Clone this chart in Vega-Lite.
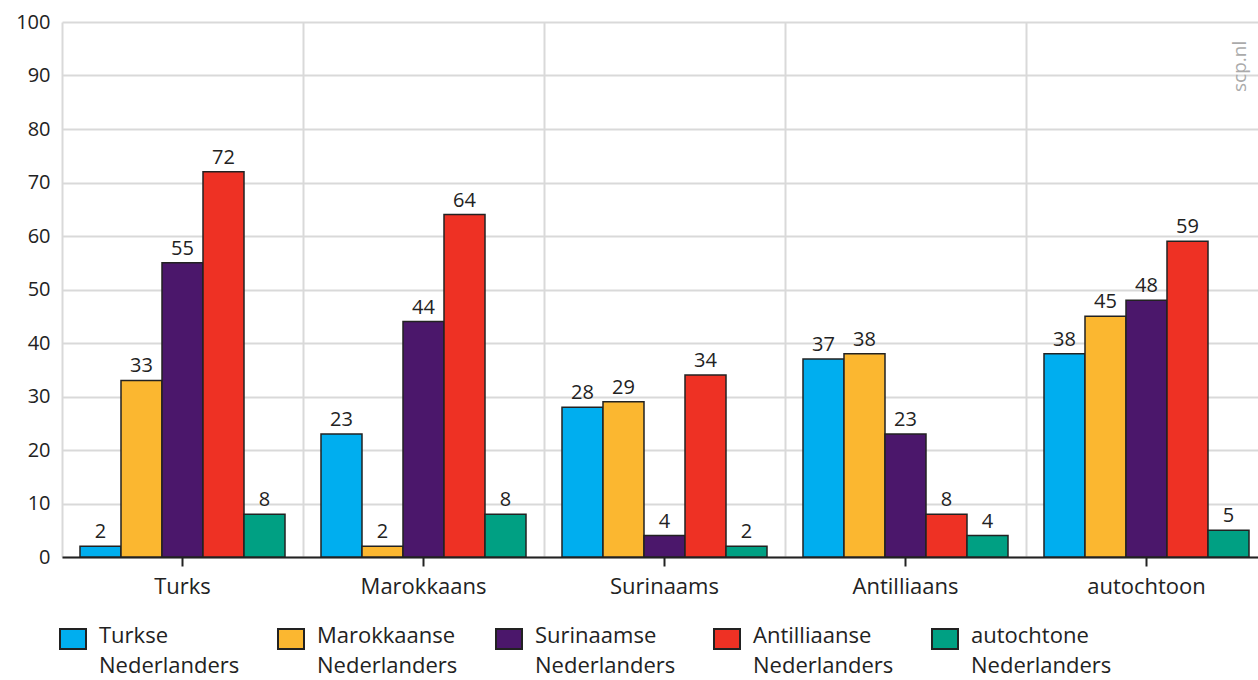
{
  "$schema": "https://vega.github.io/schema/vega-lite/v6.json",
  "autosize": "none",
  "width": 1205,
  "height": 535,
  "padding": {"left": 62, "top": 22, "right": 0, "bottom": 123},
  "background": "white",
  "config": {
    "font": "Open Sans",
    "view": {"stroke": null},
    "axis": {"labelFont": "Open Sans", "labelColor": "#222", "gridColor": "#d9d9d9", "gridWidth": 2}
  },
  "data": {"values": [
    {"group": "Turks", "series": "Turkse Nederlanders", "value": 2},
    {"group": "Turks", "series": "Marokkaanse Nederlanders", "value": 33},
    {"group": "Turks", "series": "Surinaamse Nederlanders", "value": 55},
    {"group": "Turks", "series": "Antilliaanse Nederlanders", "value": 72},
    {"group": "Turks", "series": "autochtone Nederlanders", "value": 8},
    {"group": "Marokkaans", "series": "Turkse Nederlanders", "value": 23},
    {"group": "Marokkaans", "series": "Marokkaanse Nederlanders", "value": 2},
    {"group": "Marokkaans", "series": "Surinaamse Nederlanders", "value": 44},
    {"group": "Marokkaans", "series": "Antilliaanse Nederlanders", "value": 64},
    {"group": "Marokkaans", "series": "autochtone Nederlanders", "value": 8},
    {"group": "Surinaams", "series": "Turkse Nederlanders", "value": 28},
    {"group": "Surinaams", "series": "Marokkaanse Nederlanders", "value": 29},
    {"group": "Surinaams", "series": "Surinaamse Nederlanders", "value": 4},
    {"group": "Surinaams", "series": "Antilliaanse Nederlanders", "value": 34},
    {"group": "Surinaams", "series": "autochtone Nederlanders", "value": 2},
    {"group": "Antilliaans", "series": "Turkse Nederlanders", "value": 37},
    {"group": "Antilliaans", "series": "Marokkaanse Nederlanders", "value": 38},
    {"group": "Antilliaans", "series": "Surinaamse Nederlanders", "value": 23},
    {"group": "Antilliaans", "series": "Antilliaanse Nederlanders", "value": 8},
    {"group": "Antilliaans", "series": "autochtone Nederlanders", "value": 4},
    {"group": "autochtoon", "series": "Turkse Nederlanders", "value": 38},
    {"group": "autochtoon", "series": "Marokkaanse Nederlanders", "value": 45},
    {"group": "autochtoon", "series": "Surinaamse Nederlanders", "value": 48},
    {"group": "autochtoon", "series": "Antilliaanse Nederlanders", "value": 59},
    {"group": "autochtoon", "series": "autochtone Nederlanders", "value": 5}
  ]},
  "layer": [
    {
      "mark": {"type": "bar", "stroke": "#222", "strokeWidth": 1.5},
      "encoding": {
        "x": {"field": "group", "type": "nominal", "sort": ["Turks", "Marokkaans", "Surinaams", "Antilliaans", "autochtoon"],
          "scale": {"domain": ["Turks", "Marokkaans", "Surinaams", "Antilliaans", "autochtoon"], "paddingInner": 0, "paddingOuter": 0},
          "axis": {"title": null, "grid": false, "domainColor": "#222", "domainWidth": 2, "tickColor": "#222", "tickWidth": 2, "tickSize": 9, "labelFontSize": 22, "labelPadding": 10, "labelAngle": 0}},
        "xOffset": {"field": "series", "type": "nominal",
          "sort": ["Turkse Nederlanders", "Marokkaanse Nederlanders", "Surinaamse Nederlanders", "Antilliaanse Nederlanders", "autochtone Nederlanders"],
          "scale": {"paddingInner": 0, "paddingOuter": 0.439}},
        "y": {"field": "value", "type": "quantitative", "scale": {"domain": [0, 100], "nice": false},
          "axis": {"values": [0,10,20,30,40,50,60,70,80,90,100], "title": null, "domain": false, "ticks": false, "labelFontSize": 20, "labelPadding": 12, "grid": true}},
        "color": {"field": "series", "type": "nominal",
          "scale": {"domain": ["Turkse Nederlanders", "Marokkaanse Nederlanders", "Surinaamse Nederlanders", "Antilliaanse Nederlanders", "autochtone Nederlanders"],
            "range": ["#00AEEF", "#FBB730", "#4B176B", "#EE3124", "#00A083"]},
          "legend": {"title": null, "orient": "bottom", "direction": "horizontal", "columns": 5, "offset": 31,
            "symbolType": "M-1.3,-1L1.3,-1L1.3,1L-1.3,1Z", "symbolSize": 400, "symbolStrokeColor": "#222", "symbolStrokeWidth": 2, "symbolOpacity": 1,
            "labelFontSize": 22, "labelColor": "#222", "labelOffset": 15, "columnPadding": 34, "labelLimit": 300,
            "labelExpr": "split(datum.label, ' ')",
            "labelBaseline": "top",
            "encode": {"labels": {"update": {"lineHeight": {"value": 30}, "dy": {"value": -13}}}}}}
      }
    },
    {
      "mark": {"type": "text", "baseline": "bottom", "dy": -4, "fontSize": 20, "color": "#222"},
      "encoding": {
        "x": {"field": "group", "type": "nominal", "sort": ["Turks", "Marokkaans", "Surinaams", "Antilliaans", "autochtoon"], "axis": null},
        "xOffset": {"field": "series", "type": "nominal",
          "sort": ["Turkse Nederlanders", "Marokkaanse Nederlanders", "Surinaamse Nederlanders", "Antilliaanse Nederlanders", "autochtone Nederlanders"]},
        "y": {"field": "value", "type": "quantitative"},
        "text": {"field": "value", "type": "quantitative"}
      }
    },
    {
      "data": {"values": [{"t": "scp.nl", "group": "autochtoon", "pos": 96.5}]},
      "mark": {"type": "text", "angle": 270, "align": "right", "baseline": "bottom", "fontSize": 19, "color": "#aaaaaa"},
      "encoding": {
        "x": {"field": "group", "type": "nominal", "bandPosition": 0.93, "sort": ["Turks", "Marokkaans", "Surinaams", "Antilliaans", "autochtoon"],
          "axis": {"orient": "top", "grid": true, "bandPosition": 0, "labels": false, "ticks": false, "domain": false, "title": null}},
        "y": {"field": "pos", "type": "quantitative"},
        "text": {"field": "t", "type": "nominal"}
      }
    }
  ],
  "resolve": {"axis": {"x": "independent"}}
}
